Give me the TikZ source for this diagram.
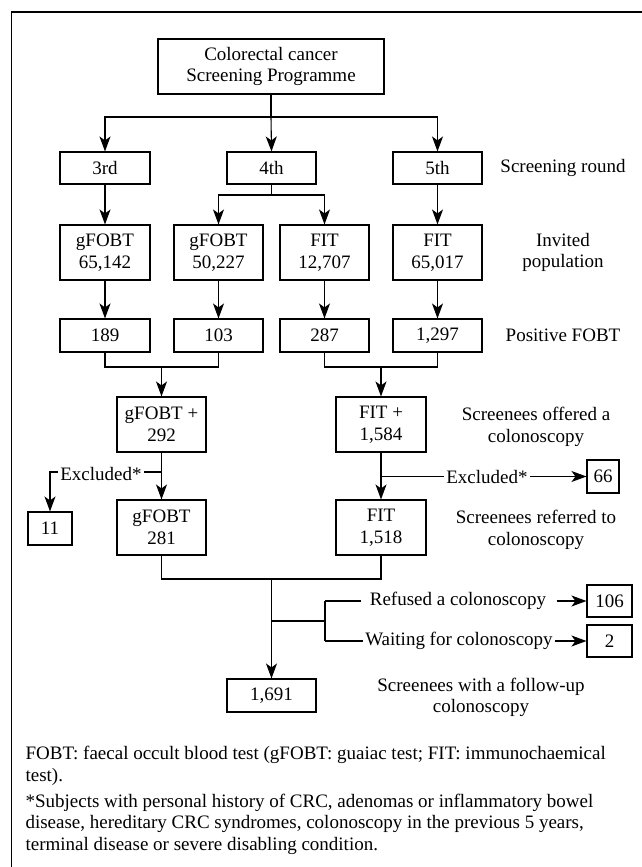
\documentclass[tikz,border=0pt]{standalone}
\usepackage{fontspec}
\setmainfont{Liberation Serif}
\usetikzlibrary{arrows.meta}
\begin{document}
\begin{tikzpicture}[x=1pt,y=-1pt,
  font=\fontsize{19}{21.5}\selectfont,
  line width=1.1pt,
  box/.style={draw,line width=1.1pt,inner sep=0pt,align=center},
  lbl/.style={align=center,inner sep=0pt},
  arr/.style={-{Stealth[length=15pt,width=11pt,inset=4pt]}},
  gap/.style={fill=white,inner sep=2pt}]
\useasboundingbox (0,0) rectangle (641,867);
\draw[line width=1.2pt] (11.5,880) -- (11.5,12) -- (660,12);
% boxes
\node[box,minimum width=226pt,minimum height=55pt] (top) at (271,66.5) {Colorectal cancer\\Screening Programme};
\node[box,minimum width=90pt,minimum height=32pt] (r3) at (105,168) {3rd};
\node[box,minimum width=89pt,minimum height=32pt] (r4) at (271.5,168) {4th};
\node[box,minimum width=89pt,minimum height=32pt] (r5) at (437.5,168) {5th};
\node[lbl] (lround) at (563,168) {Screening round};
\node[box,minimum width=90pt,minimum height=55pt] (t1) at (105,252.5) {gFOBT\\65,142};
\node[box,minimum width=89pt,minimum height=55pt] (t2) at (218.5,252.5) {gFOBT\\50,227};
\node[box,minimum width=89pt,minimum height=55pt] (t3) at (324.5,252.5) {FIT\\12,707};
\node[box,minimum width=89pt,minimum height=55pt] (t4) at (437.5,252.5) {FIT\\65,017};
\node[lbl] (linv) at (563,252.5) {Invited\\population};
\node[box,minimum width=90pt,minimum height=33pt] (p1) at (105,335.5) {189};
\node[box,minimum width=89pt,minimum height=33pt] (p2) at (218.5,335.5) {103};
\node[box,minimum width=89pt,minimum height=33pt] (p3) at (324.5,335.5) {287};
\node[box,minimum width=89pt,minimum height=33pt] (p4) at (437.5,335.5) {1,297};
\node[lbl] (lpos) at (563,335.5) {Positive FOBT};
\node[box,minimum width=89pt,minimum height=55pt] (gp) at (161.5,424.5) {gFOBT +\\292};
\node[box,minimum width=90pt,minimum height=55pt] (fp) at (381,424.5) {FIT +\\1,584};
\node[lbl] (loff) at (536,427) {Screenees offered a\\colonoscopy};
\node[box,minimum width=89pt,minimum height=55pt] (g2) at (161.5,527.5) {gFOBT\\281};
\node[box,minimum width=90pt,minimum height=55pt] (f2) at (381,527.5) {FIT\\1,518};
\node[lbl] (lref) at (536,530) {Screenees referred to\\colonoscopy};
\node[box,minimum width=44pt,minimum height=33pt] (e11) at (50,528.5) {11};
\node[box,minimum width=32pt,minimum height=33pt] (e66) at (603,476.5) {66};
\node[box,minimum width=45pt,minimum height=32pt] (b106) at (609.5,601) {106};
\node[box,minimum width=45pt,minimum height=32pt] (b2) at (609.5,641) {2};
\node[box,minimum width=89pt,minimum height=33pt] (fin) at (271.5,695.5) {1,691};
\node[lbl] (lfin) at (481,697.5) {Screenees with a follow-up\\colonoscopy};
% connectors top
\coordinate (c0) at (271,117);
\draw (top.south) -- (c0);
\draw[arr] (c0) -| (r3.north);
\draw[arr] (c0) -| (r5.north);
\draw[arr] (c0) -- (r4.north);
\coordinate (c4) at (271.5,195);
\draw (r4.south) -- (c4);
\draw[arr] (c4) -| (t2.north);
\draw[arr] (c4) -| (t3.north);
\draw[arr] (r3) -- (t1);
\draw[arr] (r5) -- (t4);
\draw[arr] (t1) -- (p1);
\draw[arr] (t2) -- (p2);
\draw[arr] (t3) -- (p3);
\draw[arr] (t4) -- (p4);
% merges
\coordinate (mg) at (161.5,367);
\coordinate (mf) at (381,367);
\draw (p1.south) |- (mg) -| (p2.south);
\draw (p3.south) |- (mf) -| (p4.south);
\draw[arr] (mg) -- (gp.north);
\draw[arr] (mf) -- (fp.north);
\draw[arr] (gp) -- (g2);
\draw[arr] (fp) -- (f2);
% excluded
\coordinate (xg) at (161.5,472);
\node[gap] (exl) at (101,474) {Excluded*};
\draw (xg) -- (xg -| exl.east);
\draw[arr] (exl.west |- xg) -| (e11.north);
\coordinate (xf) at (381,476.5);
\node[gap] (exr) at (487,476.5) {Excluded*};
\draw (xf) -- (exr.west);
\draw[arr] (exr.east) -- (e66.west);
% bottom merge
\coordinate (mb) at (271.5,579);
\draw (g2.south) |- (mb) -| (f2.south);
\draw[arr] (mb) -- (fin.north);
\coordinate (br) at (271.5,621);
\coordinate (bv) at (325,621);
\draw (br) -- (bv);
\node[lbl] (refu) at (458,601) {Refused a colonoscopy};
\node[lbl] (wait) at (459,641) {Waiting for colonoscopy};
\coordinate (rv) at (325,601);
\coordinate (wv) at (325,641);
\draw (wv) -- (rv);
\draw (rv) -- ([xshift=-8pt]refu.west);
\draw (wv) -- ([xshift=-2pt]wait.west);
\draw[arr] ([xshift=10pt]refu.east) -- (b106.west);
\draw[arr] ([xshift=2pt]wait.east) -- (b2.west);
% footnotes
\node[anchor=base west,align=left,inner sep=0pt] (fn1) at (25,781) {FOBT: faecal occult blood test (gFOBT: guaiac test; FIT: immunochaemical\\test).};
\node[anchor=base west,align=left,inner sep=0pt] (fn2) at (25,850) {*Subjects with personal history of CRC, adenomas or inflammatory bowel\\disease, hereditary CRC syndromes, colonoscopy in the previous 5 years,\\terminal disease or severe disabling condition.};
\end{tikzpicture}
\end{document}
